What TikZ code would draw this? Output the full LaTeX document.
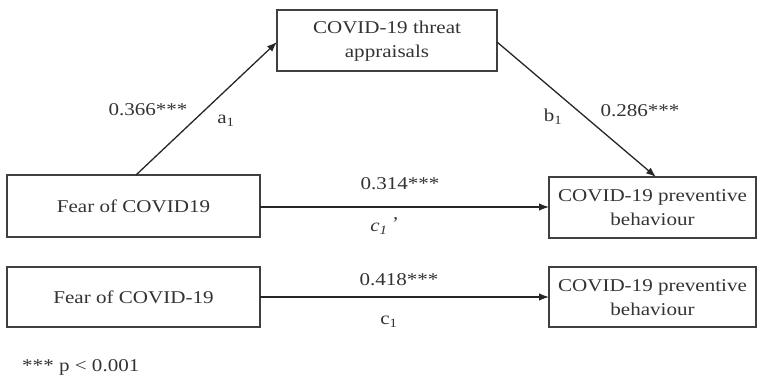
\documentclass[tikz,border=0pt]{standalone}
\usepackage{fontspec}
\setmainfont{Liberation Serif}[FakeStretch=1.17]
\usetikzlibrary{arrows.meta}
\begin{document}
\begin{tikzpicture}[x=1pt,y=-1pt,
  every node/.style={font=\fontsize{18}{24}\selectfont, text=black!80, inner sep=0pt},
  box/.style={draw=black!75, line width=1.6pt, align=center, minimum height=0pt},
  conn/.style={draw=black!85, line width=1.3pt, -{Latex[length=10pt,width=7.5pt]}},
  lbl/.style={anchor=center}]
\useasboundingbox (0,0) rectangle (758,378);
% boxes
\draw[box] (277,10) rectangle (497,71);
\node[align=center] (M) at (387,41) {COVID-19 threat\\appraisals};
\coordinate (Mw) at (277,42);
\coordinate (Me) at (497,42);
\draw[box] (7,175) rectangle (260,237);
\node (X1) at (133.5,206) {Fear of COVID19};
\coordinate (X1n) at (136,175);
\coordinate (X1e) at (260,207);
\draw[box] (549,177) rectangle (756,238);
\node[align=center] (Y1) at (652.5,208) {COVID-19 preventive\\behaviour};
\coordinate (Y1n) at (656,177);
\coordinate (Y1w) at (549,207);
\draw[box] (7,267) rectangle (260,327);
\node (X2) at (133.5,297) {Fear of COVID-19};
\coordinate (X2e) at (260,297);
\draw[box] (549,267) rectangle (756,327);
\node[align=center] (Y2) at (652.5,297.5) {COVID-19 preventive\\behaviour};
\coordinate (Y2w) at (549,297);
% connectors
\draw[conn] (X1n) -- (Mw);
\draw[conn] (Me) -- (Y1n);
\draw[conn] (X1e) -- (Y1w);
\draw[conn] (X2e) -- (Y2w);
% labels
\node[lbl] (l1) at (148,110) {0.366***};
\node[lbl] (l2) at (226,121) {a\textsubscript{1}};
\node[lbl] (l3) at (553,117) {b\textsubscript{1}};
\node[lbl] (l4) at (640,111) {0.286***};
\node[lbl] (l5) at (400,184) {0.314***};
\node[lbl] (l6) at (384,226) {\textit{c\textsubscript{1}\,\raisebox{0.1em}{\textquoteright}}};
\node[lbl] (l7) at (399,280) {0.418***};
\node[lbl] (l8) at (389,322) {c\textsubscript{1}};
\node[anchor=west] (l9) at (22,367) {*** p < 0.001};
\end{tikzpicture}
\end{document}
